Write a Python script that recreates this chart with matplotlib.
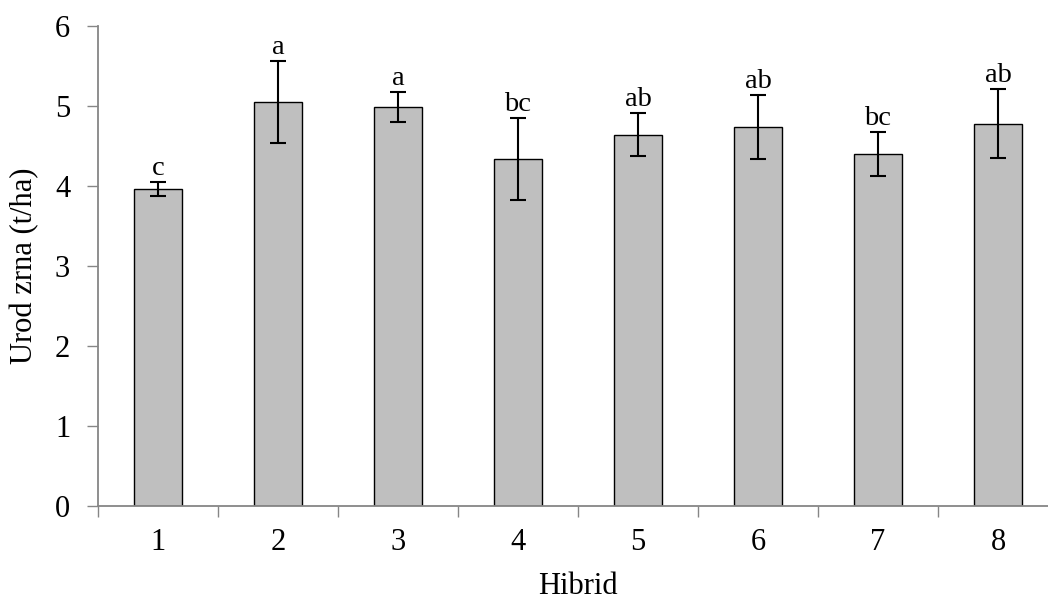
import matplotlib
matplotlib.use("Agg")
import matplotlib.pyplot as plt
import numpy as np

# Grain yield per hybrid with standard deviation and significance letters
hybrids = ["1", "2", "3", "4", "5", "6", "7", "8"]
yield_t_ha = [3.96, 5.05, 4.99, 4.34, 4.64, 4.74, 4.40, 4.78]
yield_err = [0.09, 0.51, 0.19, 0.51, 0.27, 0.40, 0.28, 0.43]
sig_letters = ["c", "a", "a", "bc", "ab", "ab", "bc", "ab"]
y_ticks = [0, 1, 2, 3, 4, 5, 6]

plt.rcParams["font.family"] = ["Liberation Serif", "DejaVu Serif"]
axis_grey = "#868686"
tick_fs = 22
title_fs = 22
letter_fs = 20.5

fig = plt.figure(figsize=(10.48, 6.0), dpi=100)
ax = fig.add_axes([98 / 1048, 94 / 600, 960 / 1048, 480 / 600])

x = np.arange(1, len(hybrids) + 1)
ax.bar(x, yield_t_ha, width=0.4, color="#bfbfbf", edgecolor="black",
       linewidth=1.0, zorder=2)
ax.errorbar(x, yield_t_ha, yerr=yield_err, fmt="none", ecolor="black",
            elinewidth=1.5, capsize=6, capthick=1.5, zorder=3)

for xi, v, e, lab in zip(x, yield_t_ha, yield_err, sig_letters):
    ax.annotate(lab, (xi, v + e), xytext=(0, 5), textcoords="offset points",
                ha="center", va="baseline", fontsize=letter_fs)

ax.set_xlim(0.5, len(hybrids) + 0.5)
ax.set_ylim(0, 6)
ax.set_yticks(y_ticks)
ax.set_yticklabels([str(t) for t in y_ticks], fontsize=tick_fs)

# category boundaries carry the tick marks; labels sit at the centres
ax.set_xticks(np.arange(0.5, len(hybrids) + 1, 1.0))
ax.set_xticklabels([])
ax.set_xticks(x, minor=True)
ax.set_xticklabels(hybrids, minor=True, fontsize=tick_fs)
ax.tick_params(axis="x", which="major", length=8, width=1.0, color=axis_grey,
               direction="out")
ax.tick_params(axis="x", which="minor", length=0, pad=16)
ax.tick_params(axis="y", length=8, width=1.0, color=axis_grey,
               direction="out", pad=12)

for side in ("top", "right"):
    ax.spines[side].set_visible(False)
for side in ("left", "bottom"):
    ax.spines[side].set_color(axis_grey)
    ax.spines[side].set_linewidth(1.3)

ax.set_ylabel("Urod zrna (t/ha)", fontsize=title_fs)
ax.set_xlabel("Hibrid", fontsize=title_fs)
ax.yaxis.label.set_va("center")
ax.yaxis.set_label_coords(-73 / 960, 0.5)
ax.xaxis.label.set_va("baseline")
ax.xaxis.set_label_coords(0.5, -88 / 480)

fig.savefig("out.png", dpi=100)
